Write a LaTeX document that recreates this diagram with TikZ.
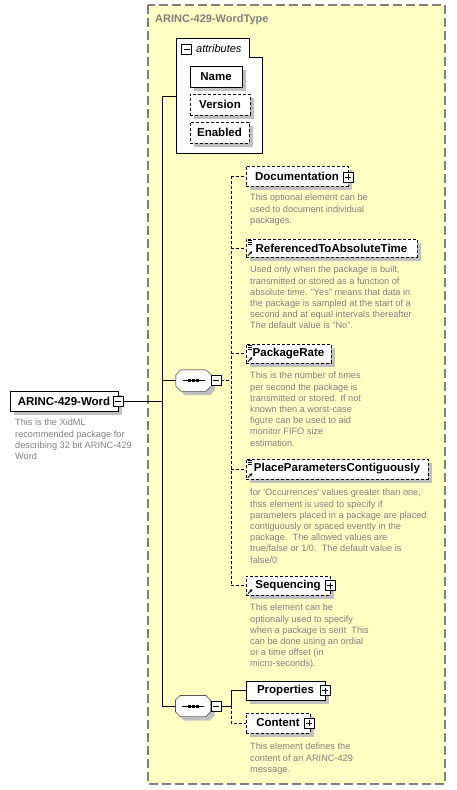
\documentclass[tikz,border=0pt]{standalone}
\usepackage{fontspec}
\setmainfont{Liberation Sans}
\usetikzlibrary{arrows.meta}

\definecolor{typefill}{HTML}{FFFFC4}
\definecolor{typeline}{HTML}{808080}
\definecolor{shadowgray}{HTML}{C0C0C0}
\definecolor{notegray}{HTML}{808080}

\tikzset{
  elem/.style={draw, fill=white, inner sep=0pt, minimum height=20,
    font=\fontsize{11.5}{13}\selectfont\bfseries,
    preaction={draw=none, fill=shadowgray, transform canvas={shift={(4,-4)}}}},
  optelem/.style={elem, dash pattern=on 3pt off 2pt},
  optline/.style={dash pattern=on 3pt off 2pt},
  note/.style={anchor=north west, inner sep=0pt, align=left, text=notegray,
    font=\fontsize{9.2}{11.2}\selectfont},
  minusbox/.style={draw, solid, fill=white, minimum size=10, inner sep=0pt,
    path picture={\draw (path picture bounding box.center) +(-3,0) -- +(3,0);}},
  plusbox/.style={draw, solid, fill=white, minimum size=10, inner sep=0pt,
    path picture={\draw (path picture bounding box.center) +(-3,0) -- +(3,0)
      (path picture bounding box.center) +(0,-3) -- +(0,3);}},
  seqbox/.style={minimum width=35, minimum height=21, inner sep=0pt}
}

% octagon round a sequence node, #1 = offset, #2 = node
\newcommand{\octpath}[2]{([shift={(5+#1,#1)}]#2.north west) -- ([shift={(-5+#1,#1)}]#2.north east)
  -- ([shift={(#1,5+#1)}]#2.north east) -- ([shift={(#1,-5+#1)}]#2.south east)
  -- ([shift={(-5+#1,#1)}]#2.south east) -- ([shift={(5+#1,#1)}]#2.south west)
  -- ([shift={(#1,-5+#1)}]#2.south west) -- ([shift={(#1,5+#1)}]#2.north west) -- cycle}
\newcommand{\seqmark}[1]{
  \fill [shadowgray] \octpath{4}{#1};
  \draw [fill=white] \octpath{0}{#1};
  \draw (#1.center) +(-11,0) -- +(11,0);
  \foreach \d in {-4,0,4} \fill ([xshift=\d]#1.center) +(-1.5,-1.5) rectangle +(1.5,1.5);
}
\newcommand{\listmark}[1]{\foreach \k in {0,2,4} \draw [solid, line width=0.7pt] ([shift={(2,2+\k)}]#1.north west) -- ++(4,0);}
\newcommand{\refarrow}[1]{\draw [solid, line width=0.8pt, -{Stealth[length=3pt,width=3pt]}] ([shift={(2,-1.5)}]#1.south west) -- ++(4.5,-4.5);}

\begin{document}
\begin{tikzpicture}[x=1pt,y=1pt,yscale=-1,xscale=1]
\useasboundingbox (0,0) rectangle (456,790);

% complex type
\draw [typeline, fill=typefill, line width=1.5pt, dash pattern=on 9pt off 4pt] (148,5) rectangle (445,784);
\node (typename) [anchor=north west, inner sep=0pt, text=typeline, font=\fontsize{11}{13}\selectfont\bfseries] at (155,14) {ARINC-429-WordType};

% attributes
\draw [fill=white] (176,38) -- (249,38) -- (249,57) -- (262,57) -- (262,153) -- (176,153) -- cycle;
\node (attrpm) [minusbox] at (186.5,49) {};
\node (attrlabel) [anchor=west, inner sep=0pt, font=\fontsize{11}{13}\selectfont\itshape] at (196,49) {attributes};
\coordinate (attrin) at (176,96);
\node (name) [elem, minimum width=52, minimum height=21] at (216,76.5) {Name};
\node (version) [optelem, minimum width=60, minimum height=21] at (220,104.5) {Version};
\node (enabled) [optelem, minimum width=59, minimum height=21] at (219.5,132.5) {Enabled};

% root element
\node (word) [elem, minimum width=108] at (64,401) {ARINC-429-Word};
\node (wordpm) [minusbox] at (word.east) {};
\node (wordnote) [note] at (15,419) {This is the XidML\\recommended package for\\describing 32 bit ARINC-429\\Word};

% sequences
\node (seqa) [seqbox] at (193.5,380.5) {};
\seqmark{seqa}
\node (seqapm) [minusbox] at (216,380.5) {};
\node (seqb) [seqbox] at (193,706) {};
\seqmark{seqb}
\node (seqbpm) [minusbox] at (216,706) {};

% first sequence
\node (doc) [optelem, minimum width=102] at (297,176) {Documentation};
\node (docpm) [plusbox] at (348,177) {};
\node (docnote) [note] at (250,194) {This optional element can be\\used to document individual\\packages.};

\node (reftime) [optelem, minimum width=171, minimum height=18] at (331.5,248) {ReferencedToAbsoluteTime};
\listmark{reftime} \refarrow{reftime}
\node (reftimenote) [note] at (250,266) {Used only when the package is built,\\transmitted or stored as a function of\\absolute time. "Yes" means that data in\\the package is sampled at the start of a\\second and at equal intervals thereafter\\The default value is "No".};

\node (rate) [optelem, minimum width=85, minimum height=19] at (288.5,353.5) {PackageRate};
\listmark{rate} \refarrow{rate}
\node (ratenote) [note] at (250,372) {This is the number of times\\per second the package is\\transmitted or stored. If not\\known then a worst-case\\figure can be used to aid\\monitor FIFO size\\estimation.};

\node (place) [optelem, minimum width=182] at (337,469) {PlaceParametersContiguously};
\listmark{place} \refarrow{place}
\node (placenote) [note] at (250,489) {for \textquotesingle Occurrences\textquotesingle{} values greater than one,\\thss element is used to specify if\\parameters placed in a package are placed\\contiguously or spaced evently in the\\package.\ \ The allowed values are\\true/false or 1/0.\ \ The default value is\\false/0};

\node (seqn) [optelem, minimum width=84, minimum height=19] at (288,585.5) {Sequencing};
\node (seqnpm) [plusbox] at (330,585.5) {};
\refarrow{seqn}
\node (seqnnote) [note] at (250,604) {This element can be\\optionally used to specify\\when a package is sent\ \ This\\can be done using an ordial\\or a time offset (in\\micro-seconds).};

% second sequence
\node (props) [elem, minimum width=79, minimum height=19] at (285.5,690.5) {Properties};
\node (propspm) [plusbox] at (325,690.5) {};
\node (content) [optelem, minimum width=64] at (278,723) {Content};
\node (contentpm) [plusbox] at (309,723) {};
\node (contentnote) [note] at (250,743) {This element defines the\\content of an ARINC-429\\message.};

% connectors
\coordinate (trunk) at (162,96);
\coordinate (brancha) at (231,380.5);
\coordinate (branchb) at (231,706);
\draw (attrin) -- (trunk) -- (trunk |- seqb.west) -- (seqb.west);
\draw (wordpm.east) -- (wordpm.east -| trunk);
\draw (seqa.west -| trunk) -- (seqa.west);
\draw [optline] (seqapm.east) -- (brancha);
\draw [optline] (doc.west -| brancha) -- (seqn.west -| brancha);
\foreach \e in {doc,reftime,rate,place,seqn} \draw [optline] (\e.west -| brancha) -- (\e.west);
\draw (seqbpm.east) -- (branchb) |- (props.west);
\draw [optline] (branchb) |- (content.west);
\end{tikzpicture}
\end{document}
